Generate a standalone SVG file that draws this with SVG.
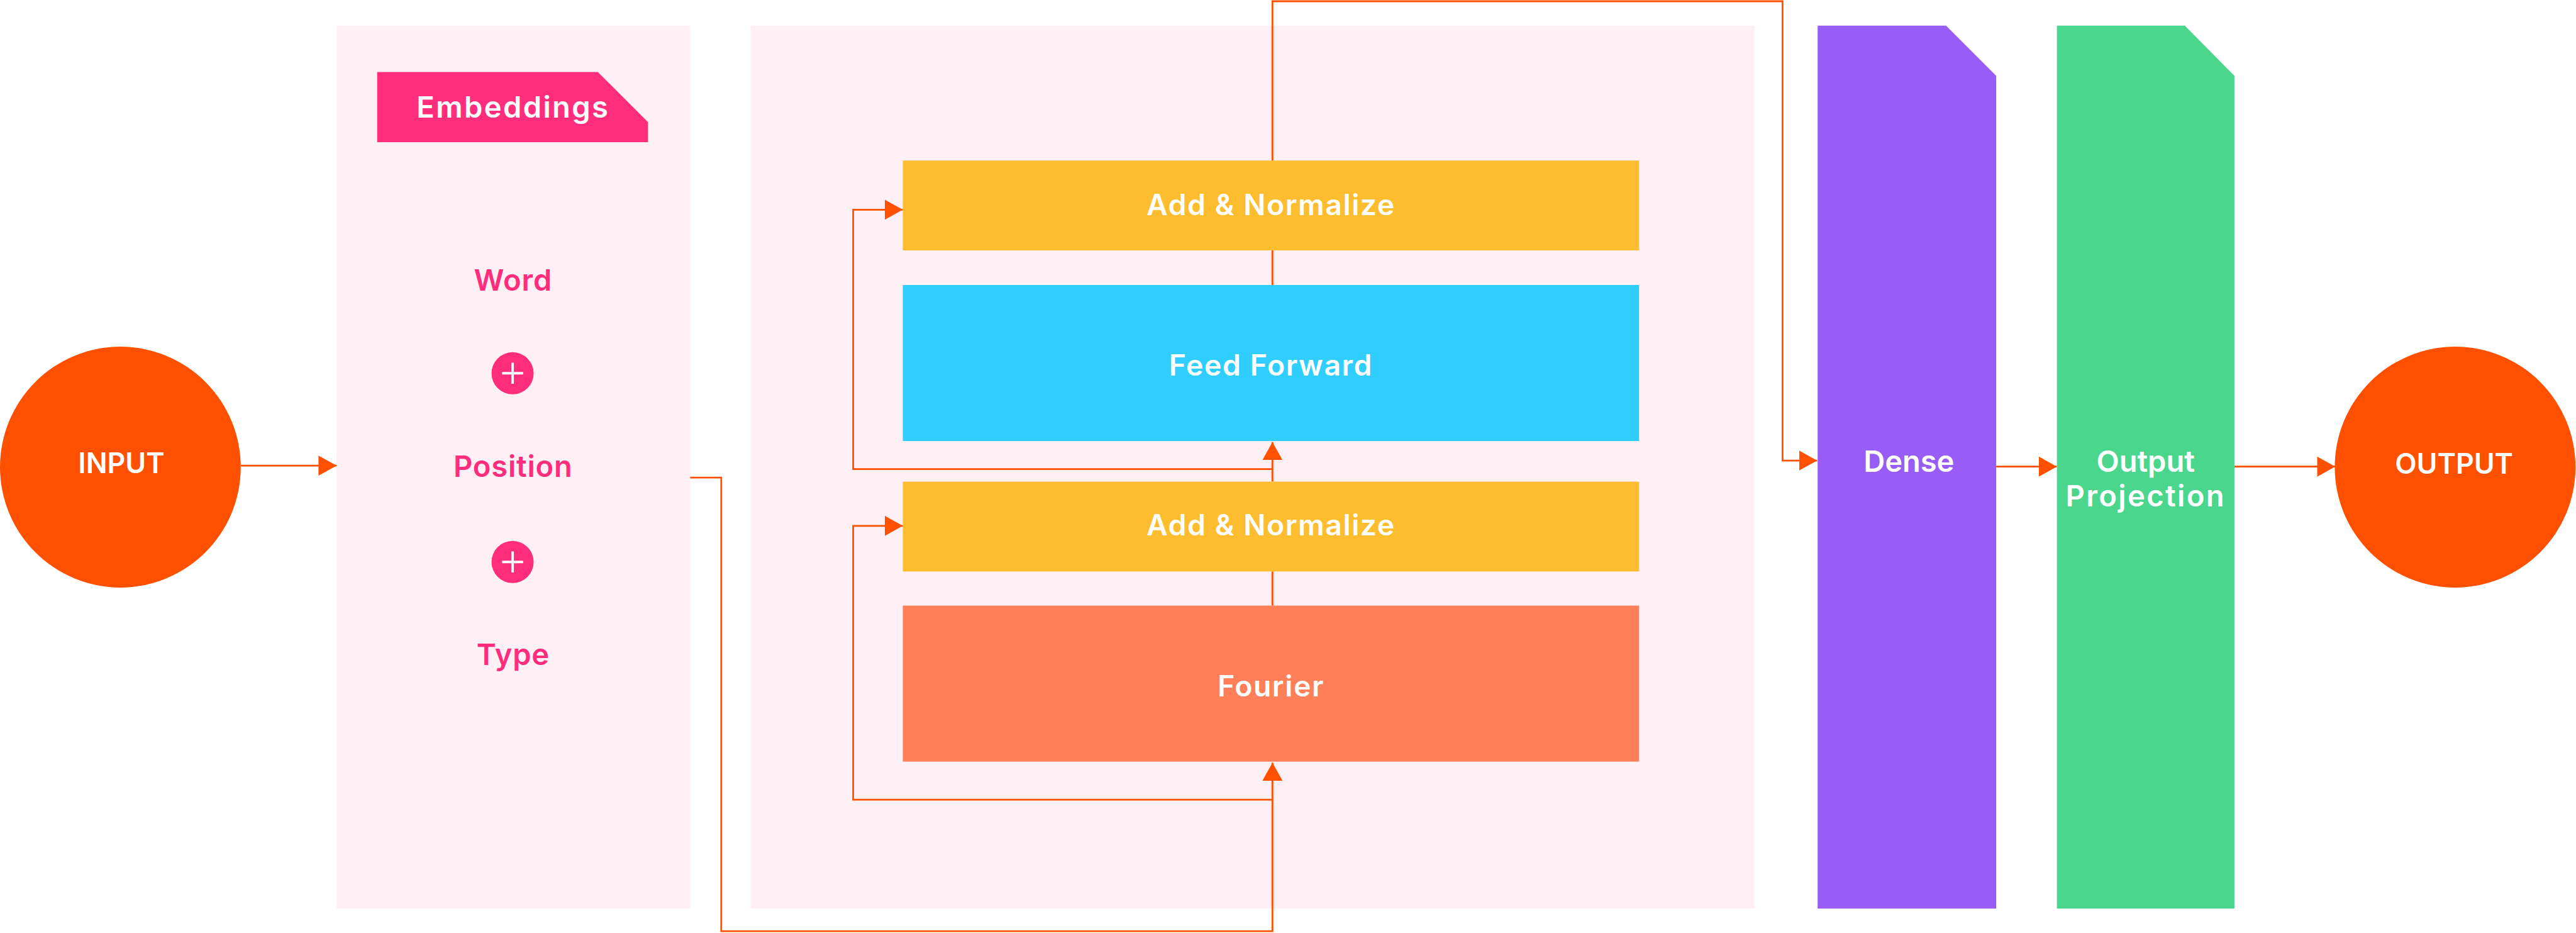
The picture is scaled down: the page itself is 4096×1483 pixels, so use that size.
<svg xmlns="http://www.w3.org/2000/svg" width="4096" height="1483" viewBox="0 0 4096 1483">
<style>
.t{font-family:Inter,"Noto Sans","Liberation Sans",sans-serif;text-anchor:middle}
.w{fill:#FFFFFF;font-weight:600;font-size:59px}
.cap{font-size:56px}
.ls{letter-spacing:3px}
.m{fill:#FFFFFF;font-weight:600;font-size:58px;letter-spacing:2px}
.p{fill:#FF2D7B;font-weight:600;font-size:59px;letter-spacing:1px}
.panel{fill:#FFF0F5}
.c{fill:none;stroke:#FF5000;stroke-width:3.5}
</style>
<defs>
<marker id="ah" markerUnits="userSpaceOnUse" viewBox="0 0 36 40" markerWidth="36" markerHeight="40" refX="36" refY="20" orient="auto">
<path d="M0,0 L36,20 L0,40 Z" fill="#FF5000"/>
</marker>
</defs>
<rect width="4096" height="1483" fill="#FFFFFF"/>
<g transform="scale(0.797508)">
<g id="embeddings-panel">
<rect class="panel" x="671" y="51" width="705" height="1760"/>
<polygon points="752,143.5 1192,143.5 1292,243.5 1292,283.5 752,283.5" fill="#FF2D7B"/>
<text class="t w ls" x="1023" y="235">Embeddings</text>
<text class="t p" x="1023" y="579">Word</text>
<circle cx="1022" cy="744" r="42" fill="#FF2D7B"/>
<path d="M1001,744 H1043 M1022,723 V765" stroke="#FFFFFF" stroke-width="5"/>
<text class="t p" x="1023" y="951">Position</text>
<circle cx="1022" cy="1120" r="42" fill="#FF2D7B"/>
<path d="M1001,1120 H1043 M1022,1099 V1141" stroke="#FFFFFF" stroke-width="5"/>
<text class="t p" x="1023" y="1325">Type</text>
</g>
<g id="encoder-panel">
<rect class="panel" x="1497" y="51" width="2001" height="1760"/>
</g>
<g id="connectors">
<path class="c" d="M480,928 H671" marker-end="url(#ah)"/>
<path class="c" d="M1376,952 H1438 V1856 H2537 V1520" marker-end="url(#ah)"/>
<path class="c" d="M2537,1594 H1701 V1048 H1800" marker-end="url(#ah)"/>
<path class="c" d="M2537,1207 V1139"/>
<path class="c" d="M2537,960 V881" marker-end="url(#ah)"/>
<path class="c" d="M2537,935 H1701 V418 H1800" marker-end="url(#ah)"/>
<path class="c" d="M2537,568 V499"/>
<path class="c" d="M2537,320 V2.5 H3554 V918 H3623" marker-end="url(#ah)"/>
<path class="c" d="M3980,930 H4101" marker-end="url(#ah)"/>
<path class="c" d="M4455,930 H4656" marker-end="url(#ah)"/>
</g>
<g id="input">
<circle cx="240" cy="931" r="240" fill="#FF5000"/>
<text class="t w cap" x="242" y="943">INPUT</text>
</g>
<g id="add-norm-top">
<rect x="1800" y="320" width="1468" height="179" fill="#FEBC2F"/>
<text class="t m" x="2534" y="429">Add &amp; Normalize</text>
</g>
<g id="feed-forward">
<rect x="1800" y="568" width="1468" height="311" fill="#30CEFE"/>
<text class="t m" x="2534" y="748">Feed Forward</text>
</g>
<g id="add-norm-bottom">
<rect x="1800" y="960" width="1468" height="179" fill="#FEBC2F"/>
<text class="t m" x="2534" y="1067">Add &amp; Normalize</text>
</g>
<g id="fourier">
<rect x="1800" y="1207" width="1468" height="311" fill="#FF7F59"/>
<text class="t m" x="2534" y="1388">Fourier</text>
</g>
<g id="dense">
<polygon points="3624,51 3880,51 3980,151 3980,1811 3624,1811" fill="#975DF6"/>
<text class="t w" x="3806" y="940">Dense</text>
</g>
<g id="output-projection">
<polygon points="4101,51 4356,51 4455,151 4455,1811 4101,1811" fill="#4AD78D"/>
<text class="t w" x="4278" y="940">Output</text>
<text class="t w ls" x="4278" y="1010">Projection</text>
</g>
<g id="output">
<circle cx="4895" cy="931" r="240" fill="#FF5000"/>
<text class="t w cap" x="4893" y="944">OUTPUT</text>
</g>
</g>
</svg>
